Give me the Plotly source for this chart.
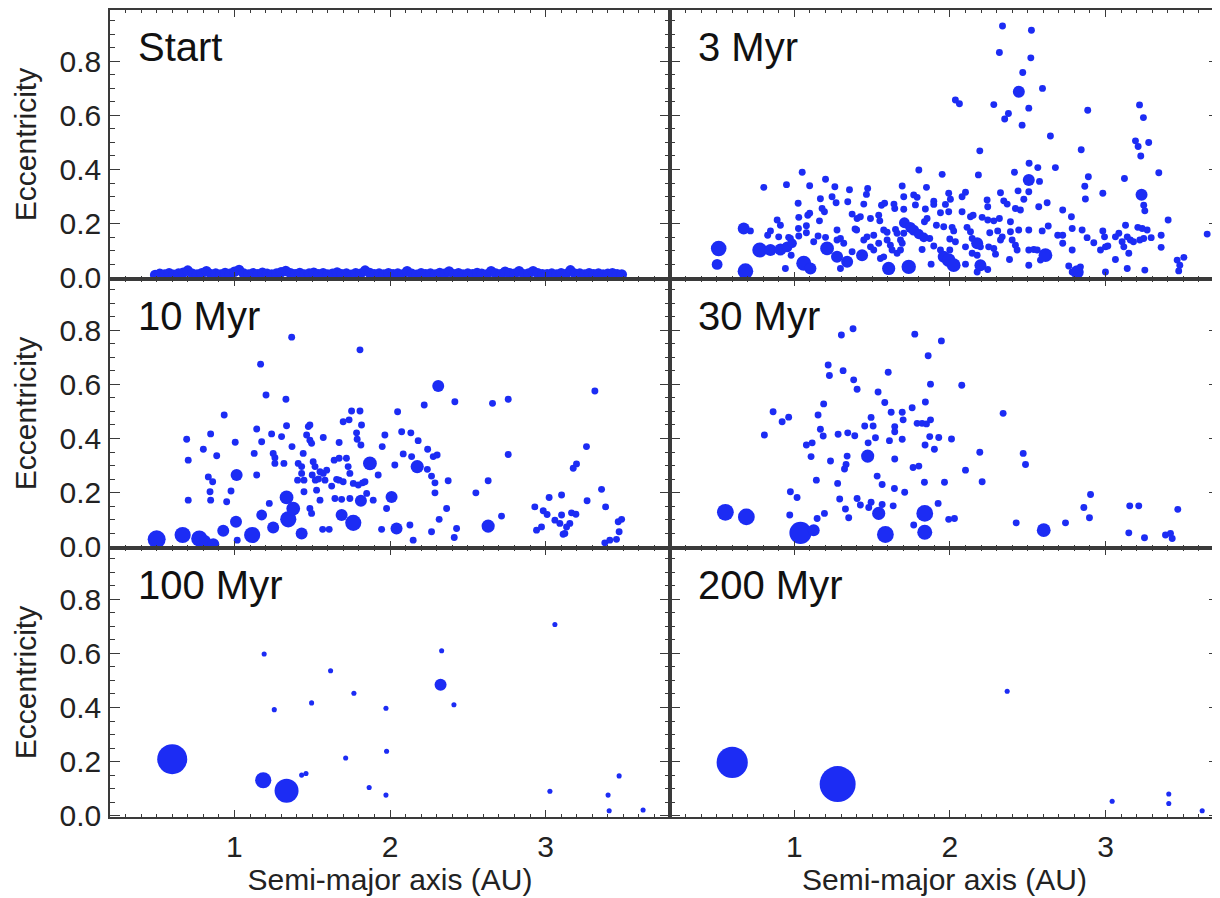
import plotly.graph_objects as go
from plotly.subplots import make_subplots

# ---------------- data (semi-major axis [AU], eccentricity, relative body size) ----------------
PANEL_TITLES = ["Start", "3 Myr", "10 Myr", "30 Myr", "100 Myr", "200 Myr"]
Y_TICKS = [0.0, 0.2, 0.4, 0.6, 0.8]
Y_TICK_TEXT = ["0.0", "0.2", "0.4", "0.6", "0.8"]
X_TICKS = [1, 2, 3]
X_TICK_TEXT = ["1", "2", "3"]

# Start
a_start = [0.49, 0.52, 0.55, 0.58, 0.61, 0.64, 0.67, 0.70, 0.73, 0.76,
           0.79, 0.82, 0.85, 0.88, 0.91, 0.94, 0.97, 1.00, 1.03, 1.06,
           1.09, 1.12, 1.15, 1.18, 1.21, 1.24, 1.27, 1.30, 1.33, 1.36,
           1.39, 1.42, 1.45, 1.48, 1.51, 1.54, 1.57, 1.60, 1.63, 1.66,
           1.69, 1.72, 1.75, 1.78, 1.81, 1.84, 1.87, 1.90, 1.93, 1.96,
           1.99, 2.02, 2.05, 2.08, 2.11, 2.14, 2.17, 2.20, 2.23, 2.26,
           2.29, 2.32, 2.35, 2.38, 2.41, 2.44, 2.47, 2.50, 2.53, 2.56,
           2.59, 2.62, 2.65, 2.68, 2.71, 2.74, 2.77, 2.80, 2.83, 2.86,
           2.89, 2.92, 2.95, 2.98, 3.01, 3.04, 3.07, 3.10, 3.13, 3.16,
           3.19, 3.22, 3.25, 3.28, 3.31, 3.34, 3.37, 3.40, 3.43, 3.46, 3.49]
e_start = [0.010, 0.014, 0.012, 0.016, 0.011, 0.015, 0.018, 0.026, 0.014, 0.012,
           0.016, 0.024, 0.013, 0.015, 0.012, 0.017, 0.014, 0.022, 0.028, 0.015,
           0.012, 0.016, 0.013, 0.018, 0.014, 0.012, 0.015, 0.020, 0.025, 0.016,
           0.013, 0.017, 0.012, 0.015, 0.018, 0.013, 0.016, 0.012, 0.014, 0.019,
           0.013, 0.015, 0.011, 0.016, 0.014, 0.026, 0.017, 0.013, 0.015, 0.012,
           0.016, 0.013, 0.015, 0.012, 0.024, 0.014, 0.011, 0.016, 0.013, 0.015,
           0.012, 0.017, 0.014, 0.023, 0.013, 0.016, 0.012, 0.015, 0.013, 0.017,
           0.014, 0.012, 0.024, 0.015, 0.013, 0.022, 0.016, 0.014, 0.024, 0.013,
           0.015, 0.024, 0.016, 0.013, 0.013, 0.015, 0.012, 0.016, 0.013, 0.027,
           0.014, 0.015, 0.012, 0.016, 0.013, 0.015, 0.012, 0.014, 0.016, 0.013, 0.012]

# 3 Myr - small bodies
a_3myr_small = [2.338, 2.524, 2.318, 2.52, 2.468, 2.595, 2.035, 2.061, 2.282, 2.507, 2.376, 2.352, 2.464,
                2.646, 2.192, 2.886, 2.844, 3.219, 3.244, 3.193, 3.21, 3.278, 3.227, 3.343, 3.122, 3.246,
                3.253, 3.403, 3.654, 2.509, 2.565, 2.576, 2.678, 2.415, 2.183, 1.95, 1.80, 2.89, 2.867,
                2.871, 2.983,
                0.803, 0.949, 1.05, 1.098, 1.20, 1.26, 1.354, 1.471, 1.463, 1.693, 1.703, 1.167, 1.242,
                1.268, 1.343, 1.446, 1.024, 1.56, 1.58, 1.64, 1.645, 1.178, 1.193, 1.086, 1.098, 1.028,
                1.161, 0.889, 0.91, 1.403, 1.424, 1.489, 1.542, 1.549, 1.371, 1.716, 1.026, 1.077, 1.077,
                1.274, 1.39, 1.40, 1.574, 1.596, 1.65, 1.66, 0.846, 0.828, 0.899, 0.963, 1.028, 0.717,
                0.974, 0.979, 0.942, 1.124, 1.152, 1.20, 1.274, 1.296, 1.317, 1.296, 1.371, 1.446, 1.467,
                1.51, 1.489, 1.51, 1.542, 1.553, 1.574, 1.596, 1.617, 1.628, 1.66, 1.682, 1.693, 1.703,
                1.703, 1.767, 1.789, 1.849, 1.778, 1.842, 1.896, 1.896, 1.992, 2.003, 1.971, 2.078, 2.10,
                1.939, 1.992, 2.078, 2.132, 2.149, 2.239, 2.243, 2.325, 2.346, 2.368, 2.438, 2.475, 2.507,
                2.421, 2.453, 2.571, 2.625, 2.207, 2.243, 2.282, 2.318, 2.389, 2.725, 2.781, 1.836, 1.853,
                1.682, 1.913, 1.96, 2.014, 2.024, 1.87, 1.896, 1.999, 2.035, 1.821, 2.11, 2.132, 2.256,
                2.307, 2.336, 2.325, 2.389, 2.442, 2.507, 2.593, 2.632, 2.143, 2.196, 2.10, 2.249, 2.282,
                2.293, 2.40, 2.421, 2.432, 2.507, 2.539, 2.561, 2.582, 2.693, 2.725, 2.725, 2.786, 2.786,
                2.85, 2.882, 2.925, 2.983, 2.994, 2.968, 3.0, 3.015, 3.064, 3.086, 3.107, 3.118, 3.15,
                3.129, 3.14, 3.16, 3.18, 3.208, 3.236, 3.268, 3.221, 3.246, 3.294, 3.358, 3.358, 3.064,
                3.14, 3.253, 3.461, 3.504, 3.478, 3.471, 2.839, 2.764, 3.0, 2.786, 2.383, 2.507, 1.879,
                1.939, 1.999, 2.10, 2.175, 2.243, 2.143, 2.175]
e_3myr_small = [0.931, 0.915, 0.833, 0.813, 0.759, 0.70, 0.657, 0.643, 0.64, 0.627, 0.607, 0.587, 0.564,
                0.524, 0.469, 0.619, 0.473, 0.639, 0.592, 0.506, 0.485, 0.50, 0.45, 0.388, 0.367, 0.268,
                0.247, 0.213, 0.161, 0.423, 0.407, 0.356, 0.407, 0.39, 0.38, 0.382, 0.398, 0.373, 0.338,
                0.291, 0.312,
                0.334, 0.344, 0.39, 0.34, 0.364, 0.336, 0.325, 0.33, 0.308, 0.339, 0.299, 0.292, 0.299,
                0.277, 0.281, 0.272, 0.275, 0.268, 0.275, 0.272, 0.256, 0.256, 0.244, 0.231, 0.238, 0.223,
                0.21, 0.213, 0.194, 0.219, 0.225, 0.219, 0.231, 0.21, 0.235, 0.203, 0.182, 0.192, 0.166,
                0.176, 0.18, 0.176, 0.176, 0.168, 0.178, 0.164, 0.173, 0.157, 0.151, 0.149, 0.154, 0.173,
                0.145, 0.083, 0.034, 0.133, 0.154, 0.149, 0.139, 0.145, 0.127, 0.034, 0.096, 0.139, 0.151,
                0.157, 0.114, 0.102, 0.127, 0.071, 0.077, 0.139, 0.12, 0.102, 0.09, 0.102, 0.127, 0.164,
                0.253, 0.306, 0.297, 0.334, 0.269, 0.254, 0.283, 0.271, 0.312, 0.29, 0.271, 0.299, 0.316,
                0.24, 0.244, 0.244, 0.225, 0.231, 0.287, 0.262, 0.314, 0.284, 0.272, 0.321, 0.29, 0.318,
                0.256, 0.25, 0.262, 0.277, 0.223, 0.213, 0.21, 0.219, 0.207, 0.25, 0.225, 0.207, 0.219,
                0.139, 0.194, 0.188, 0.186, 0.173, 0.145, 0.117, 0.143, 0.133, 0.104, 0.186, 0.17, 0.166,
                0.173, 0.151, 0.139, 0.17, 0.176, 0.176, 0.173, 0.191, 0.145, 0.114, 0.114, 0.114, 0.108,
                0.087, 0.139, 0.12, 0.102, 0.102, 0.104, 0.102, 0.065, 0.157, 0.157, 0.127, 0.182, 0.102,
                0.176, 0.148, 0.129, 0.173, 0.151, 0.102, 0.114, 0.117, 0.151, 0.164, 0.133, 0.114, 0.09,
                0.194, 0.151, 0.139, 0.133, 0.186, 0.182, 0.176, 0.139, 0.145, 0.148, 0.157, 0.112, 0.067,
                0.034, 0.028, 0.065, 0.075, 0.046, 0.025, 0.04, 0.043, 0.021, 0.021, 0.067, 0.046, 0.05,
                0.102, 0.102, 0.05, 0.021, 0.03, 0.09, 0.083]
# 3 Myr - larger bodies
a_3myr_big = [2.443, 2.507, 3.232, 0.513, 0.503, 0.685, 0.674, 0.777, 0.846, 0.91, 0.953, 0.985, 1.06,
              1.103, 1.21, 1.274, 1.339, 1.435, 1.606, 1.735, 1.707, 1.746, 1.767, 1.80, 1.832, 1.96,
              1.992, 2.024, 2.175, 2.196, 2.614, 2.818]
e_3myr_big = [0.688, 0.361, 0.307, 0.108, 0.049, 0.024, 0.182, 0.102, 0.102, 0.104, 0.114, 0.127, 0.053,
              0.034, 0.108, 0.077, 0.059, 0.083, 0.034, 0.04, 0.203, 0.186, 0.176, 0.161, 0.149, 0.077,
              0.065, 0.046, 0.127, 0.046, 0.083, 0.021]
r_3myr_big = [2.0, 2.0, 2.0, 2.6, 1.8, 2.6, 2.0, 2.5, 2.0, 2.0, 1.8, 1.6, 2.5,
              2.0, 2.3, 2.0, 2.0, 2.0, 2.2, 2.4, 1.8, 1.8, 1.8, 1.7, 1.6, 2.0,
              2.3, 2.3, 2.0, 2.0, 2.3, 2.2]

# 10 Myr
a_10myr_small = [0.693, 0.703, 0.703, 0.80, 0.847, 0.832, 0.86, 0.843, 0.847, 0.886, 0.934, 0.95, 0.978,
                 1.005, 1.018, 1.127, 1.143, 1.143, 1.168, 1.175, 1.203, 1.224, 1.239, 1.249, 1.26, 1.26,
                 1.303, 1.318, 1.331, 1.335, 1.368, 1.37, 1.406, 1.41, 1.432, 1.442, 1.432, 1.447, 1.447,
                 1.464, 1.475, 1.485, 1.485, 1.496, 1.506, 1.518, 1.55, 1.571, 1.571, 1.50, 1.52, 1.54,
                 1.528, 1.55, 1.496, 1.485, 1.582, 1.593, 1.567, 1.609, 1.625, 1.641, 1.673, 1.657, 1.673,
                 1.699, 1.646, 1.689, 1.742, 1.673, 1.72, 1.731, 1.742, 1.699, 1.737, 1.753, 1.807, 1.785,
                 1.817, 1.789, 1.813, 1.807, 1.764, 1.796, 1.824, 1.85, 1.892, 1.839, 1.946, 1.924, 1.95,
                 1.967, 1.978, 2.031, 2.049,
                 2.22, 2.417, 2.659, 2.76, 3.317, 2.075, 2.134, 2.181, 2.242, 2.085, 2.139, 2.278, 2.303,
                 2.24, 2.267, 2.289, 2.289, 2.374, 2.364, 2.316, 2.428, 2.413, 2.267, 2.128, 2.149, 2.552,
                 2.631, 2.76, 2.717, 2.931, 2.985, 3.01, 3.023, 3.103, 2.942, 2.974, 3.06, 3.092, 3.103,
                 3.167, 3.195, 3.135, 3.156, 3.124, 3.113, 3.178, 3.199, 3.263, 3.267, 3.36, 3.386, 3.381,
                 3.413, 3.456, 3.467, 3.489, 3.473]
e_10myr_small = [0.397, 0.32, 0.172, 0.36, 0.417, 0.258, 0.24, 0.203, 0.172, 0.336, 0.487, 0.166, 0.206,
                 0.386, 0.024, 0.345, 0.435, 0.265, 0.675, 0.388, 0.561, 0.16, 0.417, 0.345, 0.329, 0.308,
                 0.407, 0.308, 0.545, 0.447, 0.775, 0.37, 0.246, 0.308, 0.296, 0.345, 0.271, 0.246, 0.203,
                 0.413, 0.444, 0.45, 0.394, 0.382, 0.314, 0.296, 0.277, 0.271, 0.404, 0.265, 0.246, 0.25,
                 0.209, 0.172, 0.123, 0.141, 0.246, 0.283, 0.064, 0.064, 0.224, 0.32, 0.385, 0.249, 0.246,
                 0.24, 0.178, 0.175, 0.178, 0.327, 0.327, 0.296, 0.271, 0.462, 0.469, 0.502, 0.502, 0.421,
                 0.45, 0.397, 0.376, 0.728, 0.234, 0.228, 0.236, 0.197, 0.172, 0.24, 0.064, 0.265, 0.37,
                 0.413, 0.141, 0.302, 0.499,
                 0.524, 0.536, 0.53, 0.545, 0.576, 0.425, 0.421, 0.392, 0.36, 0.343, 0.333, 0.333, 0.339,
                 0.286, 0.261, 0.236, 0.199, 0.244, 0.141, 0.101, 0.067, 0.034, 0.055, 0.08, 0.024, 0.199,
                 0.244, 0.341, 0.113, 0.147, 0.133, 0.119, 0.182, 0.191, 0.061, 0.073, 0.098, 0.086, 0.117,
                 0.125, 0.12, 0.073, 0.086, 0.049, 0.046, 0.29, 0.306, 0.37, 0.17, 0.212, 0.147, 0.014,
                 0.024, 0.027, 0.092, 0.101, 0.055]
a_10myr_big = [0.50, 0.667, 0.774, 0.81, 0.864, 0.928, 1.01, 1.014, 1.114, 1.175, 1.249, 1.335, 1.346,
               1.378, 1.432, 1.764, 1.689, 1.813, 1.871, 2.01, 2.042, 2.31, 2.175, 2.631]
e_10myr_big = [0.027, 0.043, 0.03, 0.021, 0.009, 0.059, 0.092, 0.265, 0.043, 0.117, 0.071, 0.182, 0.101,
               0.141, 0.049, 0.088, 0.117, 0.17, 0.308, 0.184, 0.067, 0.594, 0.296, 0.076]
r_10myr_big = [3.0, 2.7, 2.7, 2.0, 2.0, 2.0, 2.0, 2.0, 2.7, 1.8, 2.0, 2.3, 2.7,
               2.3, 2.0, 2.7, 2.0, 2.0, 2.3, 2.0, 2.0, 2.0, 2.2, 2.2]

# 30 Myr
a_30myr_small = [0.863, 0.921, 0.963, 0.807, 0.974, 1.017, 0.97, 1.302, 1.377, 1.774, 1.945, 1.86, 1.217,
                 1.225, 1.313, 1.603, 1.381, 1.403, 1.875, 2.076, 1.538, 1.188, 1.581, 1.842, 1.757, 1.152,
                 1.622, 1.693, 1.493, 1.699, 1.789, 1.821, 1.849, 1.875, 2.342, 1.167, 1.185, 1.452, 1.506,
                 1.645, 1.645, 1.281, 1.343, 1.388, 1.521, 1.693, 1.87, 1.928, 2.01, 1.077, 1.114, 1.474,
                 1.611, 1.84, 1.90, 1.107, 1.232, 1.339, 1.332, 1.322, 1.645, 2.192, 2.471, 2.486, 1.763,
                 1.80, 2.10, 1.141, 1.278, 1.532, 1.564, 1.643, 1.709, 1.836, 1.965, 2.207, 1.291, 1.403,
                 1.328, 1.349, 1.424, 1.478, 1.493, 1.564, 1.635, 1.767, 1.924, 1.992, 2.029, 1.146, 1.193,
                 2.426, 2.743, 2.861, 2.904, 2.897, 3.156, 3.214, 3.465, 3.15, 3.251, 3.386, 3.418, 3.429]
e_30myr_small = [0.499, 0.462, 0.479, 0.413, 0.203, 0.182, 0.117, 0.783, 0.806, 0.786, 0.761, 0.706, 0.672,
                 0.633, 0.651, 0.645, 0.617, 0.582, 0.601, 0.597, 0.572, 0.528, 0.533, 0.535, 0.514, 0.487,
                 0.497, 0.497, 0.478, 0.469, 0.456, 0.456, 0.454, 0.469, 0.493, 0.434, 0.409, 0.446, 0.446,
                 0.444, 0.425, 0.416, 0.421, 0.41, 0.403, 0.397, 0.407, 0.404, 0.398, 0.376, 0.384, 0.384,
                 0.392, 0.376, 0.36, 0.333, 0.317, 0.335, 0.304, 0.287, 0.324, 0.349, 0.345, 0.304, 0.293,
                 0.298, 0.283, 0.246, 0.234, 0.261, 0.23, 0.215, 0.201, 0.238, 0.238, 0.24, 0.176, 0.178,
                 0.139, 0.107, 0.154, 0.145, 0.164, 0.156, 0.151, 0.08, 0.16, 0.101, 0.104, 0.104, 0.123,
                 0.088, 0.088, 0.145, 0.193, 0.107, 0.151, 0.151, 0.138, 0.051, 0.033, 0.043, 0.049, 0.03]
a_30myr_big = [0.556, 0.691, 1.039, 1.124, 1.471, 1.542, 1.585, 1.838, 1.838, 2.603]
e_30myr_big = [0.127, 0.11, 0.051, 0.061, 0.335, 0.123, 0.045, 0.123, 0.053, 0.061]
r_30myr_big = [2.8, 2.8, 3.7, 2.0, 2.2, 2.2, 2.8, 2.8, 2.5, 2.3]

# 100 Myr
a_100myr_small = [1.432, 1.46, 1.191, 1.256, 1.496, 1.618, 1.768, 1.715, 1.866, 1.974, 1.978, 1.974,
                  2.332, 2.411, 3.06, 3.028, 3.473, 3.402, 3.409, 3.627]
e_100myr_small = [0.15, 0.156, 0.598, 0.392, 0.417, 0.536, 0.453, 0.213, 0.104, 0.397, 0.238, 0.076,
                  0.61, 0.41, 0.707, 0.09, 0.147, 0.076, 0.018, 0.021]
a_100myr_big = [0.60, 1.185, 1.335, 2.325]
e_100myr_big = [0.209, 0.131, 0.092, 0.484]
r_100myr_big = [5.0, 2.7, 4.0, 2.0]

# 200 Myr
a_200myr_small = [2.368, 3.043, 3.407, 3.407, 3.622]
e_200myr_small = [0.46, 0.053, 0.08, 0.045, 0.018]
a_200myr_big = [0.60, 1.278]
e_200myr_big = [0.197, 0.117]
r_200myr_big = [5.2, 6.0]

# relative sizes of the small bodies in each snapshot
R_START = 1.75
R_SMALL_EARLY = 1.15
R_SMALL_LATE = 0.85

# ---------------- figure ----------------
BLUE = "rgb(28,44,244)"
AXIS = "#3a3a3a"
FONT = "Liberation Sans, Arial, Helvetica, sans-serif"
SIZEREF = 1 / 6.0

fig = make_subplots(rows=3, cols=2, horizontal_spacing=0, vertical_spacing=0,
                    column_widths=[560, 549])

def add_points(a, e, r, row, col):
    fig.add_trace(go.Scatter(
        x=a, y=e, mode="markers",
        marker=dict(color=BLUE, size=r, sizemode="diameter", sizeref=SIZEREF,
                    opacity=1, line=dict(width=0)),
        showlegend=False, hoverinfo="x+y"), row=row, col=col)

add_points(a_start, e_start, [R_START] * len(a_start), 1, 1)
add_points(a_3myr_small, e_3myr_small, [R_SMALL_EARLY] * len(a_3myr_small), 1, 2)
add_points(a_3myr_big, e_3myr_big, r_3myr_big, 1, 2)
add_points(a_10myr_small, e_10myr_small, [R_SMALL_EARLY] * len(a_10myr_small), 2, 1)
add_points(a_10myr_big, e_10myr_big, r_10myr_big, 2, 1)
add_points(a_30myr_small, e_30myr_small, [R_SMALL_EARLY] * len(a_30myr_small), 2, 2)
add_points(a_30myr_big, e_30myr_big, r_30myr_big, 2, 2)
add_points(a_100myr_small, e_100myr_small, [R_SMALL_LATE] * len(a_100myr_small), 3, 1)
add_points(a_100myr_big, e_100myr_big, r_100myr_big, 3, 1)
add_points(a_200myr_small, e_200myr_small, [R_SMALL_LATE] * len(a_200myr_small), 3, 2)
add_points(a_200myr_big, e_200myr_big, r_200myr_big, 3, 2)

for row in (1, 2, 3):
    for col in (1, 2):
        fig.update_xaxes(
            range=[0.2, 3.8] if col == 1 else [0.2, 3.73],
            tickvals=X_TICKS, ticktext=X_TICK_TEXT,
            showticklabels=(row == 3),
            ticks="inside", ticklen=7, tickwidth=1.3, tickcolor=AXIS,
            minor=dict(dtick=0.1, tick0=0, ticks="inside", ticklen=3.5, tickwidth=1.1, tickcolor=AXIS),
            showline=True, linecolor=AXIS, linewidth=1.6, mirror="ticks",
            showgrid=False, zeroline=False,
            tickfont=dict(family=FONT, size=30, color="#222"),
            title=dict(text="Semi-major axis (AU)" if row == 3 else None,
                       font=dict(family=FONT, size=30, color="#222"), standoff=6),
            ticklabelstandoff=2,
            row=row, col=col)
        fig.update_yaxes(
            range=[-0.005, 0.99],
            tickvals=Y_TICKS, ticktext=Y_TICK_TEXT,
            showticklabels=(col == 1),
            ticks="inside", ticklen=10, tickwidth=1.3, tickcolor=AXIS,
            minor=dict(dtick=0.05, tick0=0, ticks="inside", ticklen=5, tickwidth=1.1, tickcolor=AXIS),
            showline=True, linecolor=AXIS, linewidth=1.6, mirror="ticks",
            showgrid=False, zeroline=False,
            tickfont=dict(family=FONT, size=30, color="#222"),
            title=dict(text="Eccentricity" if col == 1 else None,
                       font=dict(family=FONT, size=30, color="#222"), standoff=14),
            ticklabelstandoff=1,
            row=row, col=col)

axis_names = ["", "2", "3", "4", "5", "6"]
for name, title in zip(axis_names, PANEL_TITLES):
    fig.add_annotation(text=title, xref=f"x{name} domain", yref=f"y{name} domain",
                       x=0.047, y=0.864, xanchor="left", yanchor="middle", showarrow=False,
                       font=dict(family=FONT, size=40, color="#111"))

# the page adds an 8 px body margin, so the figure is 8 px smaller and margins shifted
fig.update_layout(
    width=1212, height=890,
    margin=dict(l=102, r=1, t=2, b=81, autoexpand=False),
    paper_bgcolor="white", plot_bgcolor="white",
    font=dict(family=FONT, color="#222"),
)

fig.write_html("out.html")
